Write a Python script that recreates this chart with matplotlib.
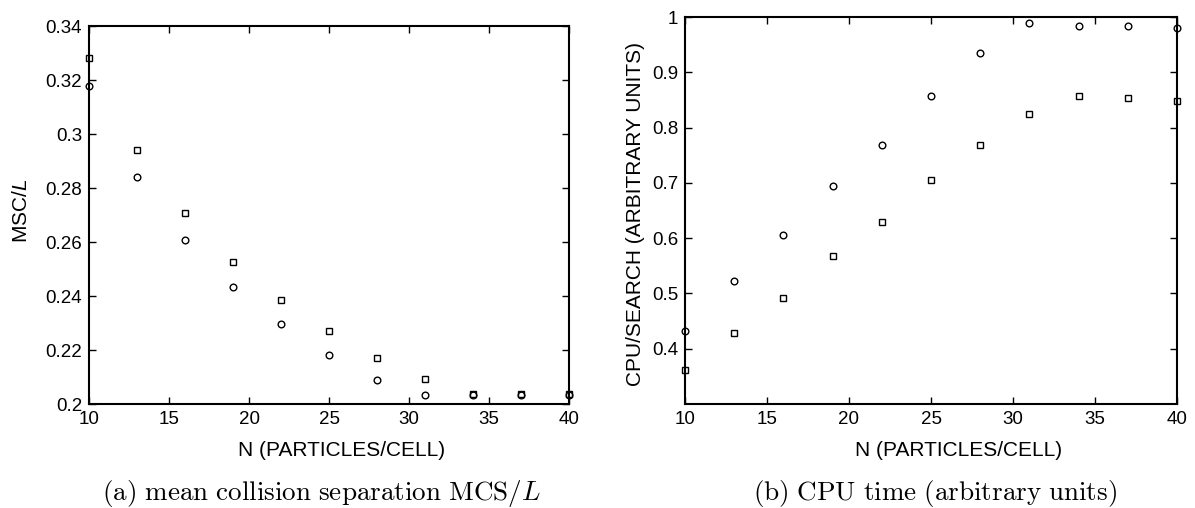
import matplotlib
matplotlib.use("Agg")
import matplotlib.pyplot as plt

plt.rcParams['font.family'] = ['Liberation Sans', 'DejaVu Sans']
plt.rcParams['mathtext.fontset'] = 'custom'
plt.rcParams['mathtext.rm'] = 'Liberation Sans'
plt.rcParams['mathtext.it'] = 'Liberation Sans:italic'

n_particles = [10, 13, 16, 19, 22, 25, 28, 31, 34, 37, 40]

msc_squares = [0.3282, 0.2942, 0.2706, 0.2526, 0.2385, 0.2270, 0.2172, 0.2094, 0.2037, 0.2037, 0.2037]
msc_circles = [0.3176, 0.2840, 0.2607, 0.2433, 0.2296, 0.2183, 0.2090, 0.2034, 0.2034, 0.2034, 0.2034]

cpu_circles = [0.432, 0.523, 0.606, 0.694, 0.769, 0.857, 0.934, 0.990, 0.984, 0.983, 0.981]
cpu_squares = [0.362, 0.428, 0.492, 0.567, 0.630, 0.705, 0.768, 0.824, 0.857, 0.854, 0.848]

x_ticks = [10, 15, 20, 25, 30, 35, 40]
left_yticks = [0.2, 0.22, 0.24, 0.26, 0.28, 0.3, 0.32, 0.34]
left_ylabels = ['0.2', '0.22', '0.24', '0.26', '0.28', '0.3', '0.32', '0.34']
right_yticks = [0.4, 0.5, 0.6, 0.7, 0.8, 0.9, 1.0]
right_ylabels = ['0.4', '0.5', '0.6', '0.7', '0.8', '0.9', '1']

xlabel = 'N (PARTICLES/CELL)'
ylabel_a = r'MSC/$L$'
ylabel_b = 'CPU/SEARCH (ARBITRARY UNITS)'
caption_a = r'$\mathrm{(a)\ mean\ collision\ separation\ MCS}/L$'
caption_b = r'$\mathrm{(b)\ CPU\ time\ (arbitrary\ units)}$'

fig = plt.figure(figsize=(11.95, 5.08), dpi=100)
ax1 = fig.add_axes([0.07448, 0.20472, 0.40167, 0.74409])
ax2 = fig.add_axes([0.57322, 0.20472, 0.41172, 0.76181])

mk = dict(linestyle='none', markerfacecolor='none', markeredgecolor='black',
          markeredgewidth=1.0, clip_on=False, zorder=3)

ax1.plot(n_particles, msc_squares, marker='s', markersize=3.9, **mk)
ax1.plot(n_particles, msc_circles, marker='o', markersize=4.8, **mk)
ax1.set_xlim(10, 40)
ax1.set_ylim(0.2, 0.34)
ax1.set_yticks(left_yticks)
ax1.set_yticklabels(left_ylabels)
ax1.set_ylabel(ylabel_a, fontsize=15)
ax1.yaxis.set_label_coords(-0.12, 0.512)
ax1.set_xlabel(xlabel, fontsize=15)
ax1.xaxis.set_label_coords(0.527, -0.098)

ax2.plot(n_particles, cpu_circles, marker='o', markersize=4.8, **mk)
ax2.plot(n_particles, cpu_squares, marker='s', markersize=3.9, **mk)
ax2.set_xlim(10, 40)
ax2.set_ylim(0.3, 1.0)
ax2.set_yticks(right_yticks)
ax2.set_yticklabels(right_ylabels)
ax2.set_ylabel(ylabel_b, fontsize=15)
ax2.yaxis.set_label_coords(-0.081, 0.49)
ax2.set_xlabel(xlabel, fontsize=15)
ax2.xaxis.set_label_coords(0.557, -0.096)

for ax in (ax1, ax2):
    ax.set_xticks(x_ticks)
    ax.set_xticklabels([str(t) for t in x_ticks])
    ax.tick_params(direction='in', top=True, right=True, length=5, width=1.0,
                   labelsize=13.5, pad=5)
    for s in ax.spines.values():
        s.set_linewidth(1.5)

fig.text(321 / 1195, 1 - 500 / 508, caption_a, ha='center', va='baseline',
         fontsize=19.5, math_fontfamily='cm')
fig.text(935 / 1195, 1 - 500 / 508, caption_b, ha='center', va='baseline',
         fontsize=19.5, math_fontfamily='cm')

fig.savefig('out.png', dpi=100)
